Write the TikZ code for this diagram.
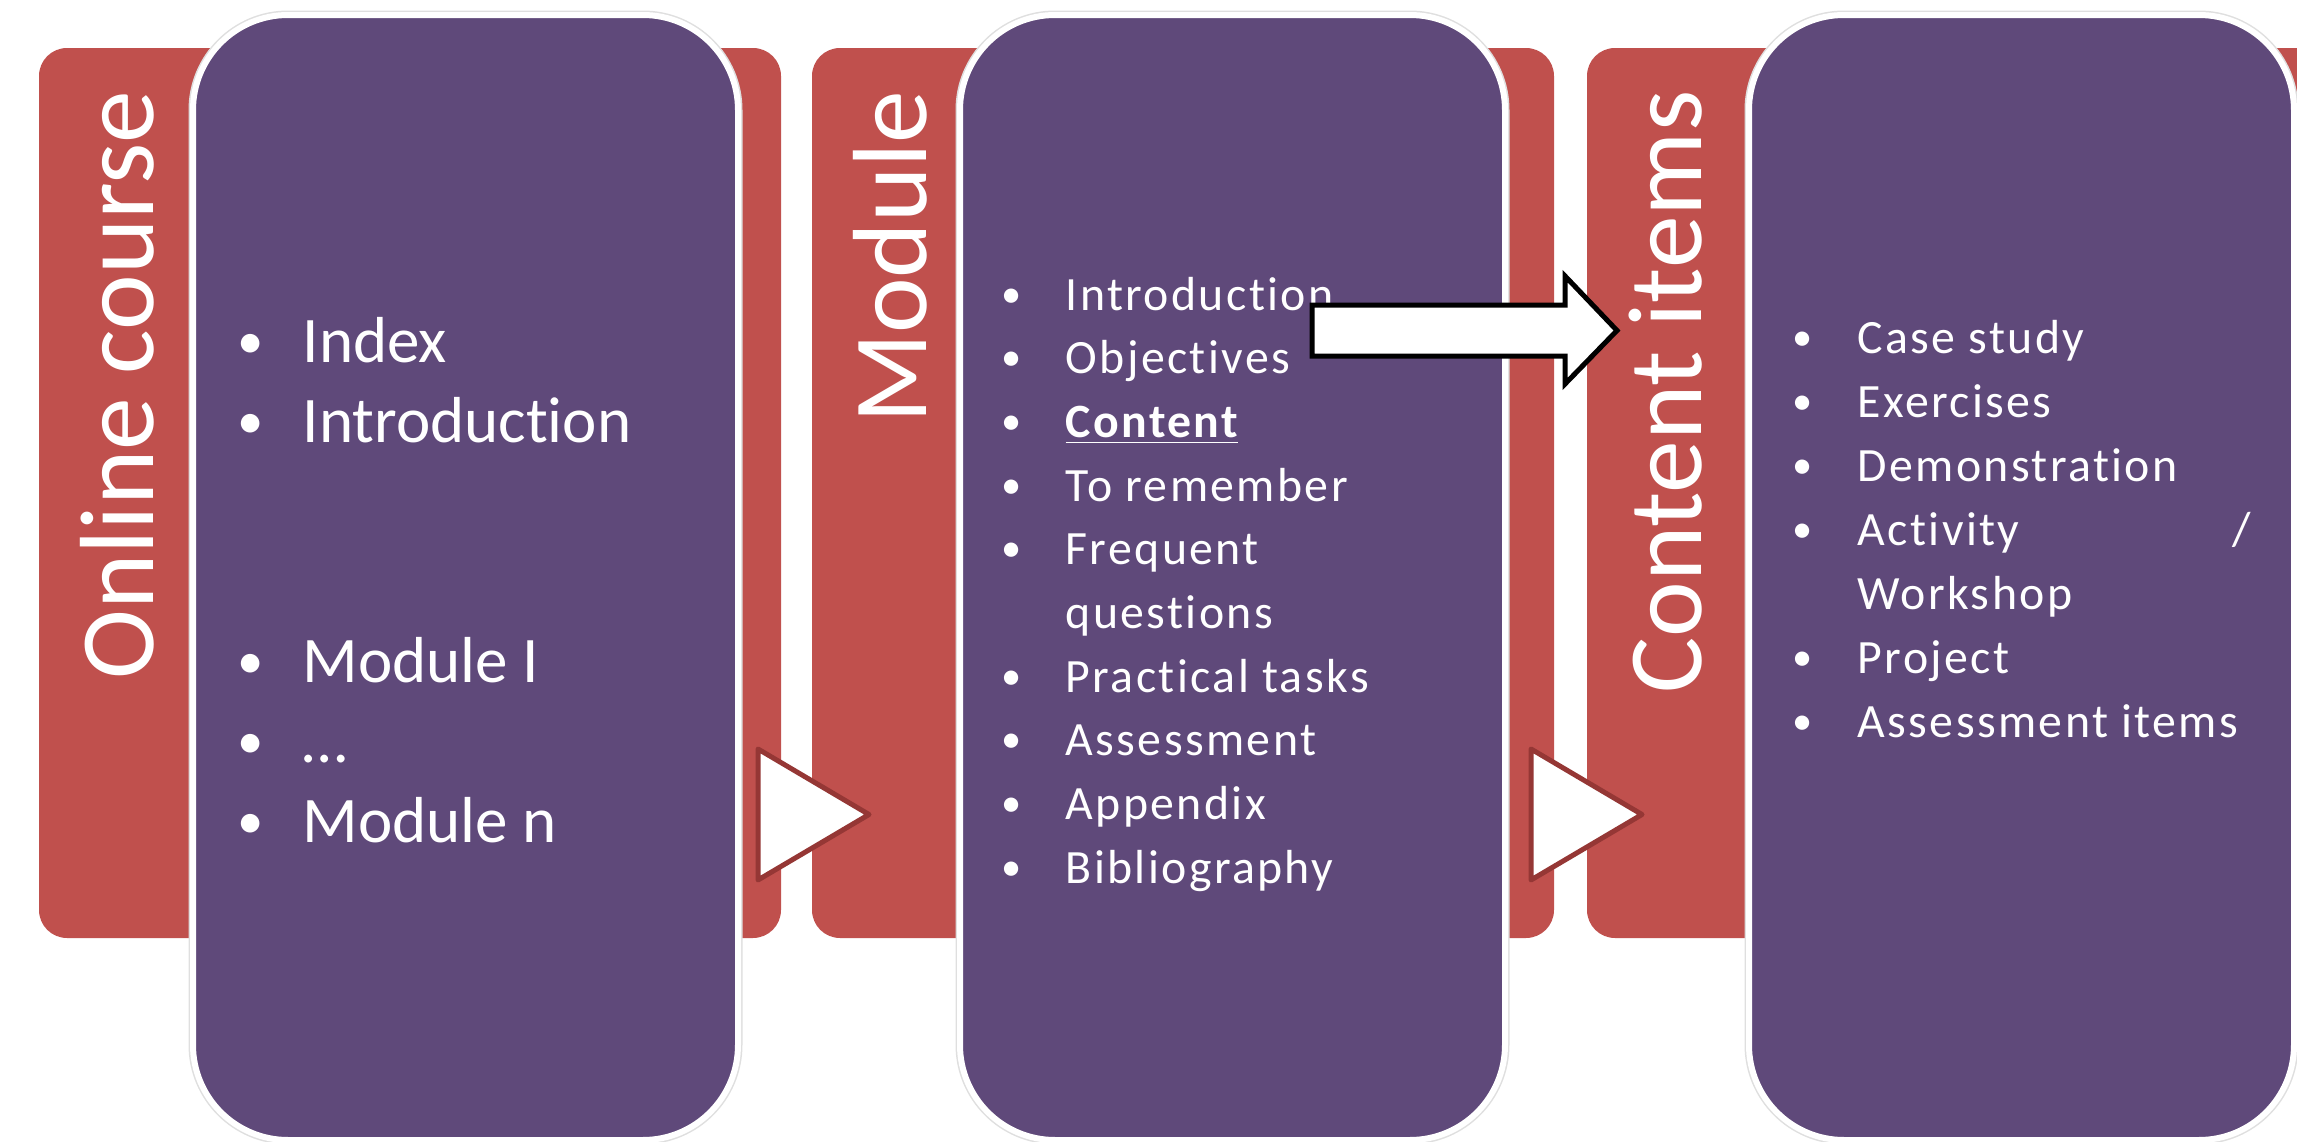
\documentclass[tikz,border=0pt]{standalone}
\usepackage{fontspec}
\setmainfont{Carlito}[Ligatures=NoCommon]
\newfontfamily\itemfont[LetterSpace=5,Ligatures=NoCommon]{Carlito}
\definecolor{tabred}{HTML}{C0504D}
\definecolor{listpurple}{HTML}{5F497A}
\definecolor{tridark}{HTML}{953735}

\tikzset{
  tabbox/.style={fill=tabred, rounded corners=2.8mm},
  listbox/.style={fill=listpurple, draw=white, line width=0.6mm, rounded corners=9.5mm},
  listshadow/.style={draw=gray!25, line width=0.9mm, rounded corners=9.5mm},
  tablabel/.style={white, rotate=90, anchor=base east, inner sep=0pt, font=\fontsize{30}{36}\selectfont},
  bigitem/.style={white, anchor=base west, inner sep=0pt, font=\fontsize{18.5}{22}\selectfont},
  smallitem/.style={white, anchor=base west, inner sep=0pt, font=\itemfont\fontsize{13.6}{16}\selectfont},
  dot/.style={white, anchor=base, inner sep=0pt}
}

\begin{document}
\begin{tikzpicture}[x=0.1mm, y=-0.1mm]
\useasboundingbox (0,0) rectangle (2297,1142);

% red tabs
\foreach \x in {39, 812, 1587}
  \fill[tabbox] (\x,48) rectangle ++(742,890);

\node[tablabel] (lbl1) at (153,90) {Online course};
\node[tablabel] (lbl2) at (926,90) {Module};
\node[tablabel] (lbl3) at (1701,90) {Content items};

% purple lists
\foreach \x in {193, 960, 1749} {
  \draw[listshadow] (\x,15) rectangle ++(545,1125);
  \draw[listbox] (\x,15) rectangle ++(545,1125);
}

% online course
\foreach \n/\t in {0/Index, 1/Introduction, 4/Module I, 5/…, 6/Module n} {
  \node[dot, font=\fontsize{15}{18}\selectfont, yshift=0.4mm] (cb\n) at (251,362+80*\n) {•};
  \node[bigitem] (ci\n) at (302,362+80*\n) {\t};
}

% module
\foreach \n/\b/\t in {0/1/Introduction, 1/1/Objectives, 2/1/{\textbf{\underline{Content}}},
    3/1/To remember, 4/1/Frequent, 5/0/questions, 6/1/Practical tasks,
    7/1/Assessment, 8/1/Appendix, 9/1/Bibliography} {
  \ifnum\b=1 \node[dot, font=\fontsize{11.5}{14}\selectfont, yshift=0.3mm] (mb\n) at (1012,310+63.7*\n) {•}; \fi
  \node[smallitem] (mi\n) at (1065,310+63.7*\n) {\t};
}

% content items
\foreach \n/\b/\t in {0/1/Case study, 1/1/Exercises, 2/1/Demonstration,
    3/1/{\makebox[39.3mm][l]{Activity\hfill/}}, 4/0/Workshop, 5/1/Project, 6/1/Assessment items} {
  \ifnum\b=1 \node[dot, font=\fontsize{11.5}{14}\selectfont, yshift=0.3mm] (ib\n) at (1803,353+64*\n) {•}; \fi
  \node[smallitem] (ii\n) at (1857,353+64*\n) {\t};
}

% play triangles
\foreach \x in {758, 1531}
  \draw[tridark, line width=0.5mm, fill=white, line join=round] (\x,749) -- (\x,880) -- (\x+111,814.5) -- cycle;

% block arrow
\coordinate (arrtail) at (1312,330.5);
\coordinate (arrtip) at (1617,330.5);
\draw[black, line width=0.5mm, fill=white] (arrtail) ++(0,-25.5) -- ++(253,0) -- ++(0,-29) -- (arrtip)
  -- ++(-52,53.5) -- ++(0,-28) -- ++(-253,0) -- cycle;

\end{tikzpicture}
\end{document}
